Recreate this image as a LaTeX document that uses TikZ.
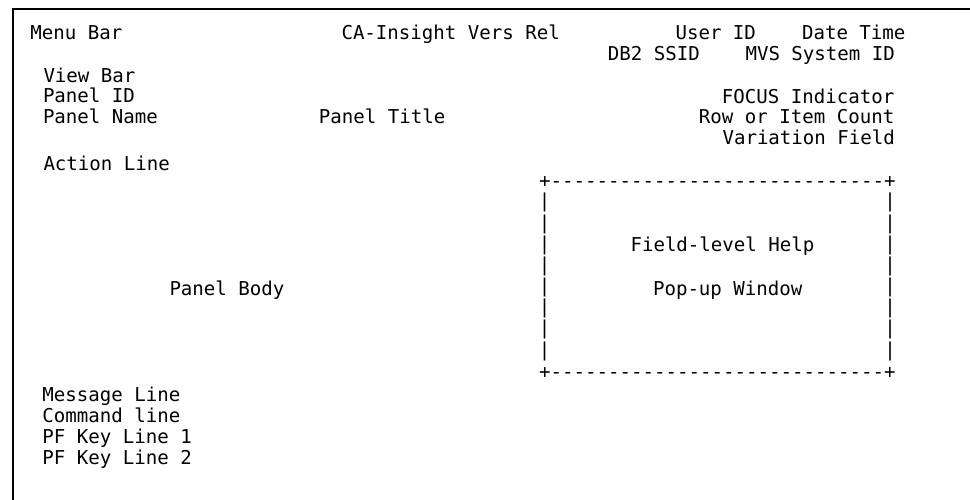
\documentclass[tikz,border=0pt]{standalone}
\usepackage{fontspec}
\setmonofont{DejaVu Sans Mono}
\begin{document}
\begin{tikzpicture}[x=1pt,y=-1pt,
  screentext/.style={inner sep=0pt, outer sep=0pt, anchor=base west,
    font=\ttfamily\fontsize{19.1}{21}\selectfont},
  popupedge/.style={inner sep=0pt, outer sep=0pt, anchor=center,
    font=\ttfamily\fontsize{19.1}{21}\selectfont},
  frameline/.style={line width=2pt, line cap=rect}]
  \useasboundingbox (0,0) rectangle (970,499);

  % screen frame (top and left edges)
  \coordinate (fbl) at (13.3,499);
  \coordinate (ftl) at (13.3,9);
  \coordinate (ftr) at (970,9);
  \draw[frameline] (fbl) -- (ftl) -- (ftr);

  % header area
  \node[screentext] (menubar) at (30.5,39.3) {Menu Bar};
  \node[screentext] (product) at (341.5,39.3) {CA-Insight Vers Rel};
  \node[screentext] (userid)  at (675.5,39.3) {User ID};
  \node[screentext] (datetime) at (802,39.3) {Date Time};
  \node[screentext] (ssid)    at (607.8,60.7) {DB2 SSID};
  \node[screentext] (mvsid)   at (745.5,60.7) {MVS System ID};

  \node[screentext] (viewbar)   at (43.5,82.7) {View Bar};
  \node[screentext] (panelid)   at (43,102.8) {Panel ID};
  \node[screentext] (panelname) at (43,123.3) {Panel Name};
  \node[screentext] (paneltitle) at (318.8,123.3) {Panel Title};
  \node[screentext] (focus)     at (721.8,103.3) {FOCUS Indicator};
  \node[screentext] (rowcount)  at (698.8,123.3) {Row or Item Count};
  \node[screentext] (variation) at (722.5,144.3) {Variation Field};
  \node[screentext] (action)    at (43.5,170) {Action Line};

  % body
  \node[screentext] (body) at (169.5,295) {Panel Body};

  % field-level help pop-up window
  \node[popupedge] (poptop) at (717.3,181.7) {+-----------------------------+};
  \node[popupedge] (popbot) at (717.3,373.3) {+-----------------------------+};
  \foreach \k in {1,...,8}{
    \node[popupedge] (pl\k) at (544.5,181.7+21.17*\k) {|};
    \node[popupedge] (pr\k) at (890,181.7+21.17*\k) {|};
  }
  \node[screentext] (helptitle) at (630.5,251) {Field-level Help};
  \node[screentext] (helpwin)   at (653,295) {Pop-up Window};

  % bottom lines
  \node[screentext] (message) at (42.3,401.7) {Message Line};
  \node[screentext] (command) at (42.3,422.7) {Command line};
  \node[screentext] (pfone)   at (42.3,443.3) {PF Key Line 1};
  \node[screentext] (pftwo)   at (42.3,464) {PF Key Line 2};
\end{tikzpicture}
\end{document}
